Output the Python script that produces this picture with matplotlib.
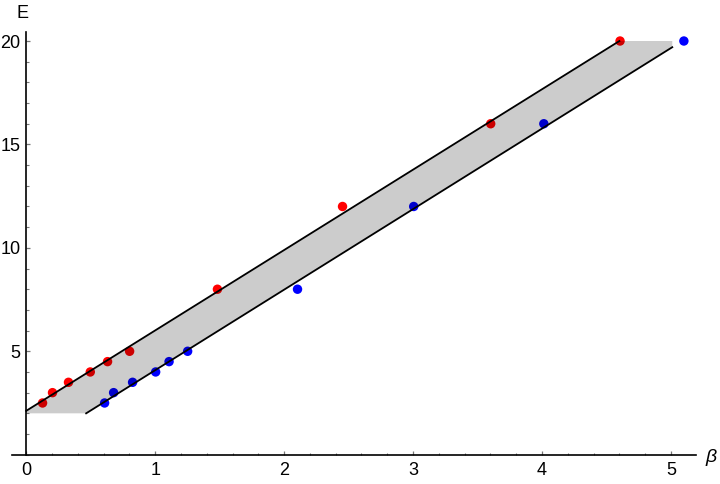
import matplotlib
matplotlib.use("Agg")
import matplotlib.pyplot as plt
from matplotlib.ticker import MultipleLocator

plt.rcParams['font.family'] = ['Liberation Sans', 'DejaVu Sans']

# Data
red_beta = [0.127, 0.204, 0.328, 0.497, 0.631, 0.802, 1.483, 2.453, 3.602, 4.605]
red_E = [2.5, 3.0, 3.5, 4.0, 4.5, 5.0, 8.0, 12.0, 16.0, 20.0]
blue_beta = [0.608, 0.678, 0.825, 1.004, 1.108, 1.252, 2.104, 3.005, 4.014, 5.10]
blue_E = [2.5, 3.0, 3.5, 4.0, 4.5, 5.0, 8.0, 12.0, 16.0, 20.0]

upper_line_beta = [0.0, 4.6]
upper_line_E = [2.12, 20.0]
lower_line_beta = [0.465, 5.01]
lower_line_E = [2.0, 19.7]

band_beta = [0.0, 0.0, 4.6, 5.01, 5.01, 0.465]
band_E = [2.0, 2.12, 20.0, 20.0, 19.7, 2.0]

x_major = [0, 1, 2, 3, 4, 5]
y_major = [5, 10, 15, 20]

fig = plt.figure(figsize=(7.2, 4.84), dpi=100)
ax = fig.add_axes([12/720, 1 - 454.7/484, (696 - 12)/720, (454.7 - 31.7)/484])
ax.set_xlim(-0.11, 5.194)
ax.set_ylim(0, 20.45)

ax.scatter(red_beta, red_E, s=46, color=(1, 0, 0), edgecolors='none', zorder=2)
ax.scatter(blue_beta, blue_E, s=46, color=(0, 0, 1), edgecolors='none', zorder=2)
ax.fill(band_beta, band_E, color='black', alpha=0.2, lw=0, zorder=3)
ax.plot(upper_line_beta, upper_line_E, color='black', lw=1.3, zorder=4)
ax.plot(lower_line_beta, lower_line_E, color='black', lw=1.3, zorder=4)

for s in ['top', 'right']:
    ax.spines[s].set_visible(False)
ax.spines['left'].set_position(('data', 0))
ax.spines['bottom'].set_position(('data', 0))
for s in ['left', 'bottom']:
    ax.spines[s].set_linewidth(1.2)
    ax.spines[s].set_zorder(5)

ax.set_xticks(x_major)
ax.set_yticks(y_major)
ax.xaxis.set_minor_locator(MultipleLocator(0.2))
ax.yaxis.set_minor_locator(MultipleLocator(1))
ax.tick_params(which='major', direction='in', length=3.2, width=0.9, color='#777777',
               labelsize=13, pad=5)
ax.tick_params(which='minor', direction='in', length=1.8, width=0.8, color='#777777')
ax.tick_params(axis='y', pad=4)

ax.text(23/720, 1 - 14/484, 'E', transform=fig.transFigure, fontsize=13,
        ha='center', va='center')
ax.text(711/720, 1 - 458/484, 'β', transform=fig.transFigure, fontsize=14,
        style='italic', ha='center', va='center')

fig.savefig('out.png', dpi=100)
